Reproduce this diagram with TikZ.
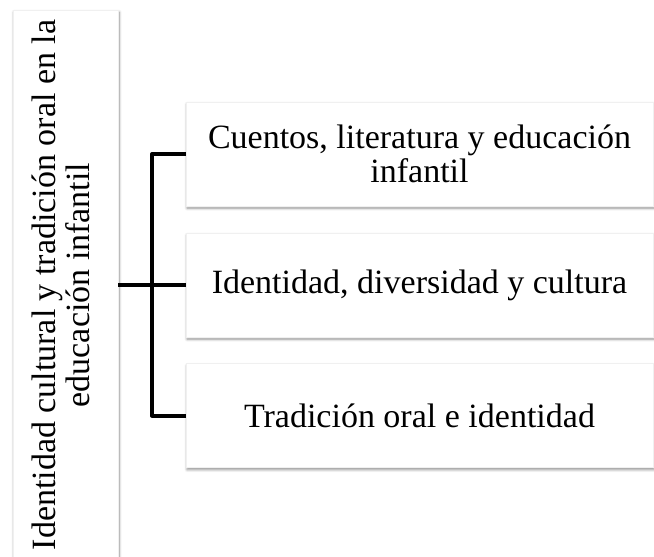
\documentclass[tikz,border=0pt]{standalone}
\usepackage{fontspec}
\setmainfont{Liberation Serif}
\usepackage{graphicx}
\usetikzlibrary{shadows.blur}

\tikzset{
  panel/.style={fill=white, draw=black!6, line width=0.4pt, inner sep=0pt,
    blur shadow={shadow xshift=0.8pt, shadow yshift=-1.6pt,
      shadow blur radius=2pt, shadow blur steps=8, shadow opacity=45}},
  tema/.style={minimum width=467*0.75pt, minimum height=104*0.75pt,
    align=center, font=\fontsize{25.5}{25.5}\selectfont},
  rama/.style={line width=3pt, line join=round},
}

\begin{document}
\begin{tikzpicture}[x=0.75pt,y=-0.75pt]
        \def\bx{419.5}
        \def\forkx{152}

        \useasboundingbox (0,0) rectangle (654,557);
        \clip (0,0) rectangle (654,557);

        %------------------
        % caja vertical
        %------------------
        \node[panel, minimum width=105*0.75pt, minimum height=550*0.75pt,
          font=\fontsize{25.5}{25}\selectfont] (raiz) at (65.5,285)
          {\rotatebox{90}{\begin{tabular}{@{}c@{}}Identidad cultural y tradición oral en la\\educación infantil\end{tabular}}};

        %------------------
        % cajas de temas
        %------------------
        \node[panel, tema] (cuentos) at (\bx,154) {Cuentos, literatura y educación\\infantil};
        \node[panel, tema] (identidad) at (\bx,285) {Identidad, diversidad y cultura};
        \node[panel, tema] (tradicion) at (\bx,415.5) {Tradición oral e identidad};

        % corchete
        \coordinate (horquilla) at (\forkx,285);
        \draw[rama] (cuentos.west) -| (horquilla) |- (tradicion.west);
        \draw[rama] (raiz.east) -- (identidad.west);
      \end{tikzpicture}
\end{document}
